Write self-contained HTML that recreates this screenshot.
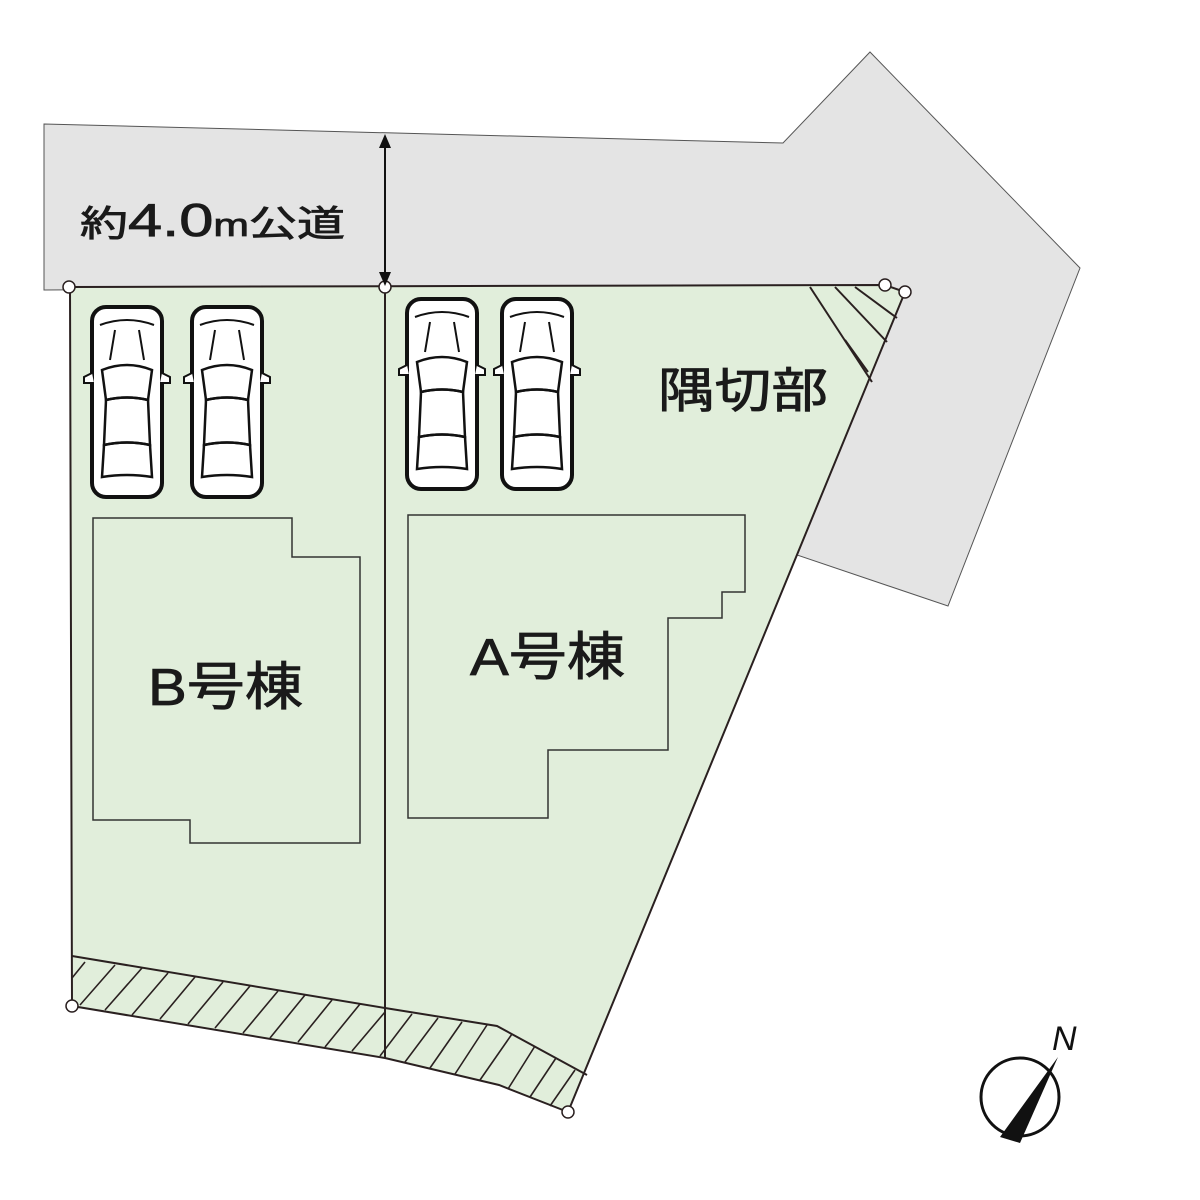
<!DOCTYPE html>
<html><head><meta charset="utf-8"><style>body{margin:0;background:#fff}svg{display:block}</style></head><body>
<svg width="1200" height="1200" viewBox="0 0 1200 1200" xmlns="http://www.w3.org/2000/svg">
<defs>
<g id="car">
<rect x="2" y="2" width="70" height="190" rx="14" fill="#fff" stroke="#111" stroke-width="4"/>
<path d="M12 65 Q37 55 62 65 L58 95 Q37 90 16 95 Z" fill="none" stroke="#111" stroke-width="2.5"/>
<path d="M16 95 Q37 90 58 95 L60 140 Q37 135 14 140 Z" fill="none" stroke="#111" stroke-width="2.5"/>
<path d="M14 140 Q37 135 60 140 L62 172 Q37 168 12 172 Z" fill="none" stroke="#111" stroke-width="2.5"/>
<path d="M10 20 Q37 10 64 20" fill="none" stroke="#111" stroke-width="2"/>
<path d="M25 25 L20 55 M49 25 L54 55" stroke="#111" stroke-width="2"/>
<path d="M2 68 L-6 72 L-6 78 L4 78 M72 68 L80 72 L80 78 L70 78" fill="#fff" stroke="#111" stroke-width="2"/>
</g>
</defs>
<polygon points="44,124 783,143 870,52 1080,268 948,606 797,555 905,292 885,285 44,290" fill="#e4e4e4" stroke="#555" stroke-width="1"/>
<polygon points="70,287 885,285 905,292 568,1112 499,1085 385,1058 72,1006" fill="#e1eedb"/>
<g stroke="#2a2020" stroke-width="2" fill="none">
<polyline points="72,956 385,1008 497,1026 587,1075"/>
<polyline points="70,287 885,285 905,292 568,1112 499,1085 385,1058 72,1006 70,287"/>
<line x1="385" y1="287" x2="385" y2="1058"/>
<line x1="810" y1="287" x2="872" y2="382"/>
<line x1="835" y1="287" x2="887" y2="342"/>
<line x1="855" y1="287" x2="897" y2="318"/>
<line x1="845" y1="340" x2="868" y2="372"/>
</g>
<g stroke="#2a2020" stroke-width="1.6">
<line x1="72" y1="978" x2="85" y2="962"/><line x1="80" y1="1005" x2="115" y2="965"/><line x1="105" y1="1010" x2="142" y2="968"/>
<line x1="132" y1="1015" x2="168" y2="973"/><line x1="160" y1="1019" x2="195" y2="977"/><line x1="188" y1="1024" x2="223" y2="982"/>
<line x1="215" y1="1028" x2="250" y2="986"/><line x1="243" y1="1033" x2="278" y2="991"/><line x1="270" y1="1038" x2="305" y2="995"/>
<line x1="298" y1="1042" x2="332" y2="1000"/><line x1="325" y1="1047" x2="360" y2="1004"/><line x1="352" y1="1051" x2="385" y2="1012"/>
<line x1="380" y1="1056" x2="412" y2="1014"/><line x1="405" y1="1062" x2="438" y2="1018"/><line x1="430" y1="1068" x2="462" y2="1022"/>
<line x1="455" y1="1074" x2="487" y2="1025"/><line x1="480" y1="1080" x2="512" y2="1034"/><line x1="508" y1="1089" x2="535" y2="1046"/>
<line x1="530" y1="1097" x2="556" y2="1058"/><line x1="550" y1="1106" x2="575" y2="1070"/>
</g>
<g fill="#fff" stroke="#2a2020" stroke-width="1.5">
<circle cx="69" cy="287" r="6"/><circle cx="385" cy="287" r="6"/><circle cx="885" cy="285" r="6"/><circle cx="905" cy="292" r="6"/>
<circle cx="72" cy="1006" r="6"/><circle cx="568" cy="1112" r="6"/>
</g>
<line x1="385" y1="140" x2="385" y2="282" stroke="#111" stroke-width="2"/>
<polygon points="385,134 379,148 391,148" fill="#111"/><polygon points="385,286 379,272 391,272" fill="#111"/>
<use href="#car" x="90" y="305"/><use href="#car" x="190" y="305"/>
<use href="#car" x="405" y="297"/><use href="#car" x="500" y="297"/>
<g fill="none" stroke="#333" stroke-width="1.5">
<polygon points="93,518 292,518 292,557 360,557 360,843 190,843 190,820 93,820"/>
<polygon points="408,515 745,515 745,592 722,592 722,618 668,618 668,750 548,750 548,818 408,818"/>
</g>
<g font-family="Liberation Sans, Noto Sans CJK JP, sans-serif" fill="#1a1a1a" stroke="#1a1a1a" stroke-width="0.8">
<text x="80" y="236" font-size="36" textLength="265" lengthAdjust="spacingAndGlyphs">約<tspan font-size="46">4.0</tspan><tspan font-size="32">m</tspan>公道</text>
<text x="658" y="407" font-size="48" textLength="170" lengthAdjust="spacingAndGlyphs">隅切部</text>
<text x="148" y="705" font-size="52" textLength="155" lengthAdjust="spacingAndGlyphs">B号棟</text>
<text x="470" y="675" font-size="52" textLength="155" lengthAdjust="spacingAndGlyphs">A号棟</text>
</g>
<circle cx="1020" cy="1097" r="39" fill="#fff" stroke="#111" stroke-width="3"/>
<polygon points="1058,1057 1000,1137 1020,1143" fill="#111"/>
<text x="1052" y="1050" font-family="Liberation Sans, sans-serif" font-style="italic" font-size="34" fill="#111">N</text>
</svg>
</body></html>
